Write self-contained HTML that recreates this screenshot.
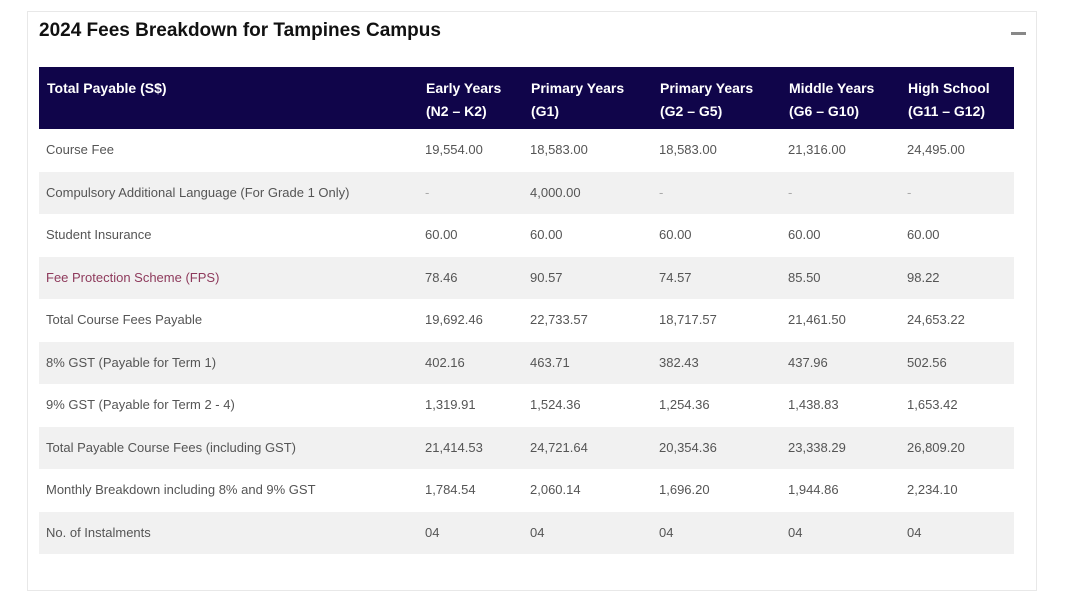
<!DOCTYPE html>
<html><head><meta charset="utf-8"><style>
body{margin:0;width:1080px;height:578px;background:#fff;font-family:"Liberation Sans",sans-serif;overflow:hidden;position:relative}
.card{position:absolute;left:27px;top:11px;width:1010px;height:580px;border:1px solid #e8e8e8;box-sizing:border-box}
h1{position:absolute;left:39px;top:20px;margin:0;font-size:19px;font-weight:bold;color:#111}
.minus{position:absolute;left:1011px;top:32px;width:15px;height:3px;background:#888}
.hdr{position:absolute;left:39px;top:67px;width:975px;height:62px;background:#10054a;color:#fff;font-weight:bold;font-size:14px}
.hdr div{position:absolute;top:10px;line-height:23px}
.row{position:absolute;left:39px;width:975px;height:42.5px;font-size:13px;color:#555}
.row.alt{background:#f1f1f1}
.row div{position:absolute;top:0;line-height:42.5px}
</style></head><body>
<div class="card"></div>
<h1>2024 Fees Breakdown for Tampines Campus</h1>
<div class="minus"></div>
<div class="hdr">
<div style="left:8px">Total Payable (S$)</div>
<div style="left:387px">Early Years<br>(N2 – K2)</div>
<div style="left:492px">Primary Years<br>(G1)</div>
<div style="left:621px">Primary Years<br>(G2 – G5)</div>
<div style="left:750px">Middle Years<br>(G6 – G10)</div>
<div style="left:869px">High School<br>(G11 – G12)</div>
</div>
<div id="rows"></div>
<script>
const labels=["Course Fee","Compulsory Additional Language (For Grade 1 Only)","Student Insurance","Fee Protection Scheme (FPS)","Total Course Fees Payable","8% GST (Payable for Term 1)","9% GST (Payable for Term 2 - 4)","Total Payable Course Fees (including GST)","Monthly Breakdown including 8% and 9% GST","No. of Instalments"];
const earlyYears=["19,554.00","-","60.00","78.46","19,692.46","402.16","1,319.91","21,414.53","1,784.54","04"];
const primaryG1=["18,583.00","4,000.00","60.00","90.57","22,733.57","463.71","1,524.36","24,721.64","2,060.14","04"];
const primaryG2G5=["18,583.00","-","60.00","74.57","18,717.57","382.43","1,254.36","20,354.36","1,696.20","04"];
const middleYears=["21,316.00","-","60.00","85.50","21,461.50","437.96","1,438.83","23,338.29","1,944.86","04"];
const highSchool=["24,495.00","-","60.00","98.22","24,653.22","502.56","1,653.42","26,809.20","2,234.10","04"];
const cols=[labels,earlyYears,primaryG1,primaryG2G5,middleYears,highSchool];
const colNames=["label","early-years","primary-g1","primary-g2-g5","middle-years","high-school"];
const xs=[7,386,491,620,749,868];
const root=document.getElementById('rows');
labels.forEach((l,i)=>{
  const r=document.createElement('div');
  r.className='row'+(i%2?' alt':'');
  r.style.top=(129+i*42.5)+'px';
  
  
  cols.forEach((c,j)=>{
    const d=document.createElement('div');
    d.style.left=xs[j]+'px';
    d.textContent=c[i];
    if(i===3&&j===0)d.style.color='#8e3a5c';
    if(c[i]==='-')d.style.color='#aaa';
    
    
    r.appendChild(d);
  });
  root.appendChild(r);
});
</script>
</body></html>
